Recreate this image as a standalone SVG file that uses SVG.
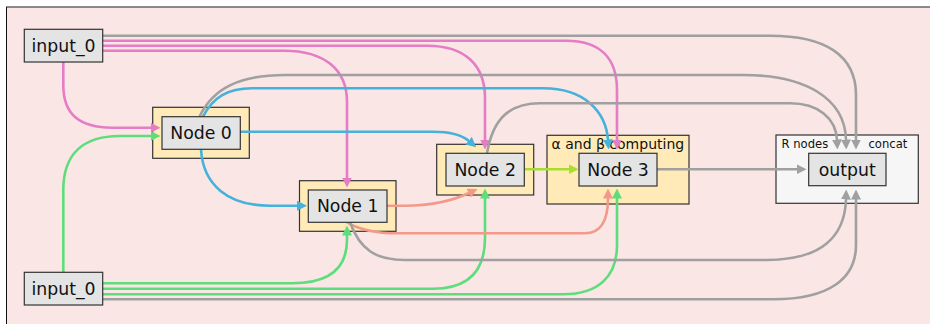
<svg xmlns="http://www.w3.org/2000/svg" width="930" height="324" viewBox="0 0 930 324">
  <style>
    .lbl { font-family: "DejaVu Sans", "Liberation Sans", sans-serif; fill: #111; }
    .main { font-size: 17.3px; text-anchor: middle; }
    .small { font-size: 11.6px; }
    .title { font-size: 14px; }
    .box { fill: #e4e4e4; stroke: #333; stroke-width: 1.2; }
    .cluster { fill: #ffeab8; stroke: #333; stroke-width: 1.2; }
    .cluster-out { fill: #f6f6f6; stroke: #333; stroke-width: 1.2; }
    .e { fill: none; stroke-width: 2.6; }
    .pink { stroke: #e57cc6; marker-end: url(#ah-pink); }
    .green { stroke: #5ddd7b; marker-end: url(#ah-green); }
    .blue { stroke: #44b2da; marker-end: url(#ah-blue); }
    .gray { stroke: #a0a0a0; marker-end: url(#ah-gray); }
    .salmon { stroke: #f2998a; marker-end: url(#ah-salmon); }
    .lime { stroke: #a8df2e; marker-end: url(#ah-lime); }
  </style>
  <defs>
    <marker id="ah-pink" viewBox="0 0 10 10" refX="0.5" refY="5" markerWidth="10" markerHeight="10" markerUnits="userSpaceOnUse" orient="auto"><path d="M0,0 L10,5 L0,10 z" fill="#e57cc6"/></marker>
    <marker id="ah-green" viewBox="0 0 10 10" refX="0.5" refY="5" markerWidth="10" markerHeight="10" markerUnits="userSpaceOnUse" orient="auto"><path d="M0,0 L10,5 L0,10 z" fill="#5ddd7b"/></marker>
    <marker id="ah-blue" viewBox="0 0 10 10" refX="0.5" refY="5" markerWidth="10" markerHeight="10" markerUnits="userSpaceOnUse" orient="auto"><path d="M0,0 L10,5 L0,10 z" fill="#44b2da"/></marker>
    <marker id="ah-gray" viewBox="0 0 10 10" refX="0.5" refY="5" markerWidth="10" markerHeight="10" markerUnits="userSpaceOnUse" orient="auto"><path d="M0,0 L10,5 L0,10 z" fill="#a0a0a0"/></marker>
    <marker id="ah-salmon" viewBox="0 0 10 10" refX="0.5" refY="5" markerWidth="10" markerHeight="10" markerUnits="userSpaceOnUse" orient="auto"><path d="M0,0 L10,5 L0,10 z" fill="#f2998a"/></marker>
    <marker id="ah-lime" viewBox="0 0 10 10" refX="0.5" refY="5" markerWidth="10" markerHeight="10" markerUnits="userSpaceOnUse" orient="auto"><path d="M0,0 L10,5 L0,10 z" fill="#a8df2e"/></marker>
  </defs>

  <!-- canvas -->
  <rect x="0" y="0" width="930" height="324" fill="#ffffff"/>
  <rect x="6.5" y="7" width="924" height="318" fill="#fae6e4"/>
  <line x1="6" y1="7" x2="930" y2="7" stroke="#666" stroke-width="1.4"/>
  <line x1="6.5" y1="7" x2="6.5" y2="324" stroke="#111" stroke-width="1"/>

  <!-- clusters -->
  <g id="cluster-node0"><rect class="cluster" x="152.7" y="107.3" width="96.6" height="51"/></g>
  <g id="cluster-node1"><rect class="cluster" x="299.5" y="180.7" width="96.5" height="50.6"/></g>
  <g id="cluster-node2"><rect class="cluster" x="436.7" y="144.3" width="97" height="50.7"/></g>
  <g id="cluster-node3">
    <rect class="cluster" x="547" y="135.3" width="142" height="68.7"/>
    <text class="lbl title" x="551.5" y="148.5">α and β computing</text>
  </g>
  <g id="cluster-output">
    <rect class="cluster-out" x="776" y="135" width="142.3" height="68.3"/>
    <text class="lbl small" x="781.5" y="148.3">R nodes</text>
    <text class="lbl small" x="868.5" y="148.3">concat</text>
  </g>

  <!-- connectors -->
  <g id="connectors">
    <!-- from upper input_0 -->
    <path class="e gray" d="M102,35.7 H770 C825,35.7 856,55 856,95 V140"/>
    <path class="e pink" d="M102,40.7 H566 C600,40.7 617,58 617,90 V140"/>
    <path class="e pink" d="M102,45.7 H427 C465,45.7 485,65 485,98 V140"/>
    <path class="e pink" d="M102,50.7 H284 C325,50.7 347,70 347,102 V178"/>
    <path class="e pink" d="M63.3,62 V85 C63.3,115 80,127.7 112,127.7 H151"/>
    <!-- from lower input_0 -->
    <path class="e green" d="M63.3,272 V190 C63.3,155 82,136 120,136 H151"/>
    <path class="e green" d="M102,283.3 H292 C330,283.3 347,268 347,240 V235"/>
    <path class="e green" d="M102,288.7 H433 C470,288.7 485,270 485,238 V198"/>
    <path class="e green" d="M102,294.3 H563 C600,294.3 617,275 617,245 V198"/>
    <path class="e gray" d="M102,299.3 H773 C830,299.3 856,278 856,245 V199"/>
    <!-- from Node 0 -->
    <path class="e gray" d="M199.5,116.7 C213,88 240,75 285,75 H743 C805,75 845,98 846,140"/>
    <path class="e blue" d="M203,116.7 C213,97 228,88.3 252,88.3 H543 C585,88.3 606,112 608,140"/>
    <path class="e blue" d="M240.3,131.7 H433 C452,131.7 462,135 469,141"/>
    <path class="e blue" d="M201,149.3 C203,185 228,205.7 270,205.7 H297.5"/>
    <!-- from Node 1 -->
    <path class="e salmon" d="M387,205.7 H405 C430,205.7 452,201 469,193"/>
    <path class="e salmon" d="M347,222.3 C360,230 375,233.3 397,233.3 H585 C600,233.3 608,222 608,198"/>
    <path class="e gray" d="M350,222.3 C360,250 376,260 405,260 H766 C822,260 845,236 846,199"/>
    <!-- from Node 2 -->
    <path class="e gray" d="M487,153.3 C493,118 510,103.3 540,103.3 H790 C818,103.3 836,118 837,140"/>
    <path class="e lime" d="M524.3,169.3 H569"/>
    <!-- from Node 3 -->
    <path class="e gray" d="M657,169.3 H797"/>
  </g>

  <!-- nodes -->
  <g id="input-top">
    <rect class="box" x="24.3" y="29.3" width="78.4" height="32.7"/>
    <text class="lbl main" x="63.5" y="51.5">input_0</text>
  </g>
  <g id="input-bottom">
    <rect class="box" x="24.3" y="272.3" width="78.4" height="32.7"/>
    <text class="lbl main" x="63.5" y="294.5">input_0</text>
  </g>
  <g id="node0">
    <rect class="box" x="162" y="116.7" width="78.3" height="32.6"/>
    <text class="lbl main" x="201" y="139">Node 0</text>
  </g>
  <g id="node1">
    <rect class="box" x="308.3" y="190" width="78.7" height="32.3"/>
    <text class="lbl main" x="347.7" y="212">Node 1</text>
  </g>
  <g id="node2">
    <rect class="box" x="446" y="153.3" width="78.3" height="32.7"/>
    <text class="lbl main" x="485.2" y="175.5">Node 2</text>
  </g>
  <g id="node3">
    <rect class="box" x="579" y="153.3" width="78" height="32.7"/>
    <text class="lbl main" x="618" y="175.5">Node 3</text>
  </g>
  <g id="output">
    <rect class="box" x="808.7" y="153.3" width="77.3" height="32.4"/>
    <text class="lbl main" x="847.3" y="175.5">output</text>
  </g>
</svg>
